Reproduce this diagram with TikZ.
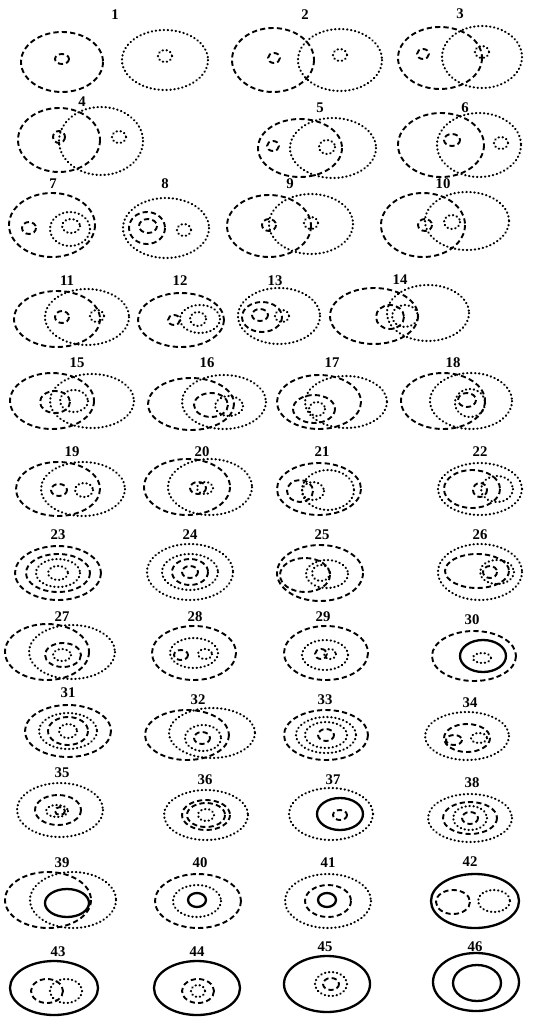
\documentclass[tikz,border=0pt]{standalone}
\usepackage{fontspec}
\setmainfont{Liberation Serif}
\usepackage{tikz}

\begin{document}
\begin{tikzpicture}[
  x=0.5mm, y=-0.5mm,
  num/.style={font=\bfseries\fontsize{21}{21}\selectfont, inner sep=0pt},
  rgA/.style={draw=black, line width=0.95mm, dash pattern=on 2.6mm off 1.6mm},
  rgB/.style={draw=black, line width=1.1mm, line cap=round, dash pattern=on 0.2mm off 1.8mm},
  rgAB/.style={draw=black, line width=1.15mm}
]
\fill[white] (0,0) rectangle (537,1017);
\useasboundingbox (0,0) rectangle (537,1017);

\node[num] (n1)  at (115,15)  {1};
\node[num] (n2)  at (305,15)  {2};
\node[num] (n3)  at (460,14)  {3};
\node[num] (n4)  at (82,102)  {4};
\node[num] (n5)  at (320,108) {5};
\node[num] (n6)  at (465,108) {6};
\node[num] (n7)  at (53,184)  {7};
\node[num] (n8)  at (165,184) {8};
\node[num] (n9)  at (290,184) {9};
\node[num] (n10) at (443,184) {10};
\node[num] (n11) at (67,281)  {11};
\node[num] (n12) at (180,281) {12};
\node[num] (n13) at (275,281) {13};
\node[num] (n14) at (400,280) {14};
\node[num] (n15) at (77,363)  {15};
\node[num] (n16) at (207,363) {16};
\node[num] (n17) at (332,363) {17};
\node[num] (n18) at (453,363) {18};
\node[num] (n19) at (72,452)  {19};
\node[num] (n20) at (202,452) {20};
\node[num] (n21) at (322,452) {21};
\node[num] (n22) at (480,452) {22};
\node[num] (n23) at (58,535)  {23};
\node[num] (n24) at (190,535) {24};
\node[num] (n25) at (322,535) {25};
\node[num] (n26) at (480,535) {26};
\node[num] (n27) at (62,617)  {27};
\node[num] (n28) at (195,617) {28};
\node[num] (n29) at (323,617) {29};
\node[num] (n30) at (472,620) {30};
\node[num] (n31) at (68,693)  {31};
\node[num] (n32) at (198,700) {32};
\node[num] (n33) at (325,700) {33};
\node[num] (n34) at (470,703) {34};
\node[num] (n35) at (62,773)  {35};
\node[num] (n36) at (205,780) {36};
\node[num] (n37) at (333,780) {37};
\node[num] (n38) at (472,783) {38};
\node[num] (n39) at (62,863)  {39};
\node[num] (n40) at (200,863) {40};
\node[num] (n41) at (328,863) {41};
\node[num] (n42) at (470,862) {42};
\node[num] (n43) at (58,952)  {43};
\node[num] (n44) at (197,952) {44};
\node[num] (n45) at (325,947) {45};
\node[num] (n46) at (475,947) {46};

\draw[rgA] (62,62) ellipse (41 and 30);
\draw[rgA] (62,59) ellipse (7 and 5);
\draw[rgB] (165,60) ellipse (43 and 30);
\draw[rgB] (165,56) ellipse (7 and 6);

\draw[rgA] (273,60) ellipse (41 and 32);
\draw[rgA] (274,58) ellipse (6 and 5);
\draw[rgB] (340,60) ellipse (42 and 31);
\draw[rgB] (340,55) ellipse (7 and 6);

\draw[rgA] (440,58) ellipse (42 and 31);
\draw[rgA] (423,54) ellipse (6 and 5);
\draw[rgB] (482,57) ellipse (40 and 31);
\draw[rgB] (482,52) ellipse (7 and 6);

\draw[rgA] (59,140) ellipse (41 and 32);
\draw[rgA] (59,137) ellipse (6 and 6);
\draw[rgB] (101,141) ellipse (42 and 34);
\draw[rgB] (119,137) ellipse (7 and 6);

\draw[rgA] (300,148) ellipse (42 and 29);
\draw[rgA] (273,146) ellipse (6 and 5);
\draw[rgB] (333,148) ellipse (43 and 30);
\draw[rgB] (327,147) ellipse (8 and 7);

\draw[rgA] (441,145) ellipse (43 and 32);
\draw[rgA] (452,140) ellipse (8 and 6);
\draw[rgB] (479,145) ellipse (42 and 32);
\draw[rgB] (501,143) ellipse (7 and 6);

\draw[rgA] (52,225) ellipse (43 and 32);
\draw[rgA] (29,228) ellipse (7 and 6);
\draw[rgB] (70,229) ellipse (20 and 17);
\draw[rgB] (71,226) ellipse (9 and 7);

\draw[rgB] (166,228) ellipse (43 and 30);
\draw[rgA] (147,228) ellipse (18 and 16);
\draw[rgA] (148,226) ellipse (9 and 7);
\draw[rgB] (184,230) ellipse (7 and 6);

\draw[rgA] (269,226) ellipse (42 and 31);
\draw[rgA] (269,225) ellipse (7 and 6);
\draw[rgB] (311,224) ellipse (42 and 30);
\draw[rgB] (311,223) ellipse (7 and 6);

\draw[rgA] (423,225) ellipse (42 and 32);
\draw[rgA] (425,225) ellipse (7 and 6);
\draw[rgB] (467,221) ellipse (42 and 29);
\draw[rgB] (452,222) ellipse (8 and 7);

\draw[rgA] (57,319) ellipse (43 and 28);
\draw[rgA] (62,317) ellipse (7 and 6);
\draw[rgB] (87,317) ellipse (42 and 28);
\draw[rgB] (97,316) ellipse (7 and 6);

\draw[rgA] (181,320) ellipse (43 and 27);
\draw[rgB] (200,319) ellipse (20 and 14);
\draw[rgA] (174,320) ellipse (6 and 5);
\draw[rgB] (198,319) ellipse (8 and 7);

\draw[rgB] (279,316) ellipse (41 and 28);
\draw[rgA] (262,317) ellipse (20 and 15);
\draw[rgA] (260,315) ellipse (8 and 6);
\draw[rgB] (282,316) ellipse (7 and 6);

\draw[rgA] (374,316) ellipse (44 and 28);
\draw[rgB] (428,313) ellipse (41 and 28);
\draw[rgA] (390,317) ellipse (14 and 12);
\draw[rgB] (405,316) ellipse (13 and 11);

\draw[rgA] (52,401) ellipse (42 and 28);
\draw[rgB] (92,401) ellipse (42 and 27);
\draw[rgA] (55,402) ellipse (15 and 11);
\draw[rgB] (74,401) ellipse (14 and 11);

\draw[rgA] (191,404) ellipse (43 and 26);
\draw[rgB] (224,402) ellipse (42 and 27);
\draw[rgA] (211,405) ellipse (17 and 12);
\draw[rgB] (229,406) ellipse (14 and 10);

\draw[rgA] (319,402) ellipse (42 and 27);
\draw[rgB] (346,402) ellipse (41 and 26);
\draw[rgA] (314,409) ellipse (21 and 14);
\draw[rgB] (317,409) ellipse (8 and 7);

\draw[rgA] (443,401) ellipse (42 and 28);
\draw[rgB] (471,401) ellipse (41 and 28);
\draw[rgB] (470,403) ellipse (15 and 14);
\draw[rgA] (467,400) ellipse (9 and 7);

\draw[rgA] (58,489) ellipse (42 and 27);
\draw[rgB] (83,489) ellipse (42 and 27);
\draw[rgA] (59,490) ellipse (8 and 6);
\draw[rgB] (84,490) ellipse (9 and 7);

\draw[rgA] (187,487) ellipse (43 and 28);
\draw[rgB] (210,487) ellipse (42 and 28);
\draw[rgA] (198,488) ellipse (8 and 6);
\draw[rgB] (205,488) ellipse (8 and 6);

\draw[rgA] (319,489) ellipse (42 and 26);
\draw[rgB] (328,490) ellipse (26 and 20);
\draw[rgA] (300,491) ellipse (13 and 11);
\draw[rgB] (313,491) ellipse (11 and 9);

\draw[rgB] (480,489) ellipse (42 and 26);
\draw[rgA] (472,489) ellipse (28 and 19);
\draw[rgA] (480,490) ellipse (7 and 7);
\draw[rgB] (497,489) ellipse (16 and 13);

\draw[rgA] (58,573) ellipse (43 and 27);
\draw[rgA] (58,573) ellipse (32 and 19);
\draw[rgB] (58,573) ellipse (22 and 14);
\draw[rgB] (58,573) ellipse (10 and 7);

\draw[rgB] (190,572) ellipse (43 and 28);
\draw[rgB] (190,572) ellipse (28 and 18);
\draw[rgA] (190,572) ellipse (18 and 13);
\draw[rgA] (190,572) ellipse (8 and 6);

\draw[rgA] (320,573) ellipse (43 and 28);
\draw[rgA] (305,575) ellipse (25 and 17);
\draw[rgB] (327,574) ellipse (21 and 14);
\draw[rgB] (321,573) ellipse (9 and 8);

\draw[rgB] (480,572) ellipse (42 and 28);
\draw[rgA] (477,571) ellipse (32 and 17);
\draw[rgB] (497,572) ellipse (17 and 12);
\draw[rgA] (490,572) ellipse (7 and 6);

\draw[rgA] (47,652) ellipse (42 and 28);
\draw[rgB] (72,652) ellipse (43 and 27);
\draw[rgA] (63,655) ellipse (18 and 12);
\draw[rgB] (62,655) ellipse (9 and 6);

\draw[rgA] (194,653) ellipse (42 and 27);
\draw[rgB] (194,653) ellipse (24 and 15);
\draw[rgA] (181,655) ellipse (7 and 5);
\draw[rgB] (205,654) ellipse (7 and 5);

\draw[rgA] (326,653) ellipse (42 and 27);
\draw[rgB] (325,655) ellipse (23 and 15);
\draw[rgA] (321,654) ellipse (6 and 5);
\draw[rgB] (330,654) ellipse (6 and 5);

\draw[rgA] (474,656) ellipse (42 and 25);
\draw[rgAB] (483,656) ellipse (23 and 16);
\draw[rgB] (482,658) ellipse (9 and 5);

\draw[rgA] (68,731) ellipse (43 and 26);
\draw[rgB] (68,731) ellipse (29 and 18);
\draw[rgA] (68,731) ellipse (20 and 14);
\draw[rgB] (68,731) ellipse (9 and 7);

\draw[rgA] (187,735) ellipse (42 and 25);
\draw[rgB] (212,733) ellipse (43 and 25);
\draw[rgB] (203,738) ellipse (18 and 13);
\draw[rgA] (202,738) ellipse (8 and 6);

\draw[rgA] (326,735) ellipse (42 and 25);
\draw[rgB] (326,735) ellipse (30 and 18);
\draw[rgB] (326,735) ellipse (21 and 13);
\draw[rgA] (326,735) ellipse (8 and 6);

\draw[rgB] (467,736) ellipse (42 and 24);
\draw[rgA] (467,738) ellipse (23 and 14);
\draw[rgA] (454,740) ellipse (8 and 5);
\draw[rgB] (479,738) ellipse (8 and 5);

\draw[rgB] (60,810) ellipse (43 and 27);
\draw[rgA] (58,810) ellipse (23 and 15);
\draw[rgB] (57,811) ellipse (11 and 6);
\draw[rgA] (60,811) ellipse (5 and 4);

\draw[rgB] (206,815) ellipse (42 and 25);
\draw[rgA] (206,815) ellipse (24 and 15);
\draw[rgA] (206,815) ellipse (19 and 12);
\draw[rgB] (206,815) ellipse (8 and 6);

\draw[rgB] (331,814) ellipse (42 and 26);
\draw[rgAB] (340,814) ellipse (23 and 16);
\draw[rgA] (340,815) ellipse (7 and 5);

\draw[rgB] (470,818) ellipse (42 and 24);
\draw[rgA] (470,818) ellipse (27 and 16);
\draw[rgB] (470,818) ellipse (17 and 12);
\draw[rgA] (470,818) ellipse (8 and 6);

\draw[rgA] (48,900) ellipse (43 and 28);
\draw[rgB] (73,900) ellipse (43 and 28);
\draw[rgAB] (67,903) ellipse (22 and 14);

\draw[rgA] (198,901) ellipse (43 and 27);
\draw[rgB] (197,901) ellipse (24 and 16);
\draw[rgAB] (197,900) ellipse (9 and 7);

\draw[rgB] (328,901) ellipse (43 and 27);
\draw[rgA] (328,901) ellipse (23 and 16);
\draw[rgAB] (327,900) ellipse (9 and 7);

\draw[rgAB] (475,901) ellipse (44 and 27);
\draw[rgA] (453,902) ellipse (17 and 12);
\draw[rgB] (494,901) ellipse (16 and 11);

\draw[rgAB] (54,988) ellipse (44 and 27);
\draw[rgA] (47,991) ellipse (16 and 12);
\draw[rgB] (66,991) ellipse (16 and 12);

\draw[rgAB] (197,988) ellipse (43 and 27);
\draw[rgA] (198,991) ellipse (16 and 12);
\draw[rgB] (198,991) ellipse (7 and 6);

\draw[rgAB] (327,984) ellipse (43 and 28);
\draw[rgB] (331,984) ellipse (16 and 12);
\draw[rgA] (331,984) ellipse (8 and 6);

\draw[rgAB] (476,982) ellipse (43 and 29);
\draw[rgAB] (477,983) ellipse (24 and 18);
\end{tikzpicture}
\end{document}
